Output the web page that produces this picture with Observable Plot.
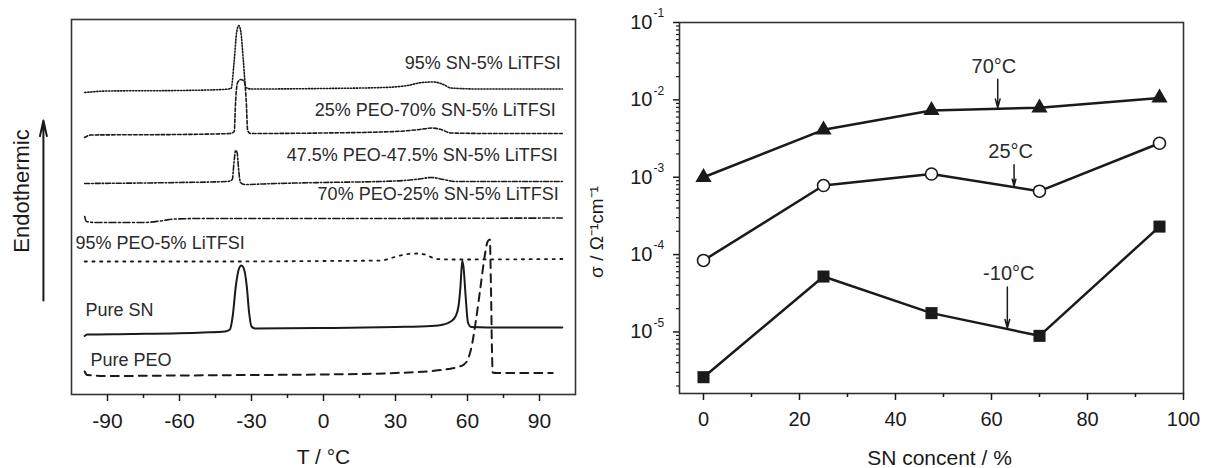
<!DOCTYPE html>
<html><head><meta charset="utf-8">
<script src="https://cdn.jsdelivr.net/npm/d3@7"></script>
<script src="https://cdn.jsdelivr.net/npm/@observablehq/plot@0.6"></script>
<style>
body{margin:0;background:#fff;}
#wrap{display:flex;width:1205px;height:468px;overflow:hidden;}
</style></head><body><div id="wrap"></div>
<script>
// ---------- Left panel: DSC curves (T in °C, heat flow in arbitrary units, offset per sample)
const dscTicks = [-90, -60, -30, 0, 30, 60, 90];
const dscMinorTicks = [-75, -45, -15, 15, 45, 75];

const curveSN95 = [[-99.5,302],[-90,303.5],[-60,304],[-42,305],[-38.5,306],[-37.2,334],[-36.2,362],[-35.3,369],[-34.4,362],[-33.4,334],[-32.4,307],[-30,305.5],[0,306],[25,307],[35,309],[41,312],[46,312.5],[50,310],[53,306.5],[65,305.5],[99.5,305.5]];
const curvePEO25SN70 = [[-99.5,257],[-97,259.5],[-60,260],[-39,261],[-37.2,263],[-36.6,294],[-35.8,312],[-34.5,315],[-33,313],[-32.2,294],[-31.6,264],[-30.5,261],[0,261.5],[30,263],[40,265],[45,266.5],[49,265],[53,261.5],[70,261],[99.5,261]];
const curvePEO475SN475 = [[-99.5,211],[-60,212],[-40,213],[-38,215],[-37.3,232],[-36.6,244],[-36,242],[-35.4,226],[-34.6,212],[-33,210],[-20,211],[0,212],[30,213.5],[40,215.5],[45,217],[50,215],[55,213],[99.5,213]];
const curvePEO70SN25 = [[-99.5,178],[-98.8,173],[-95,172],[-75,172],[-68,173.5],[-62,175.5],[-50,176],[0,176],[99.5,176.5]];
const curvePEO95 = [[-99.5,133],[-40,133],[0,133.5],[24,134],[29,137],[34,140],[39,141],[43,139.5],[47,135.5],[55,135],[99.5,135.5]];
const curvePureSN = [[-99.5,58.5],[-98.5,60],[-80,60.5],[-50,62],[-41,63],[-39,65],[-37.8,79],[-36.5,109],[-35.2,126],[-34.2,129],[-33.2,126],[-32,109],[-31,82],[-30,68],[-28.5,66],[0,66.5],[30,67.5],[45,68.5],[50,70],[53,73],[55,78],[56.3,89],[57.1,109],[57.8,134],[58.4,126],[59.2,99],[60.2,72],[61.5,67.5],[75,67],[99.5,67]];
const curvePurePEO = [[-99.5,23],[-98.5,19.5],[-90,18.5],[-60,19],[-30,19.5],[0,20],[30,21.5],[45,23.5],[52,25.5],[56,27.5],[58.5,30],[60.3,36],[61.8,49],[63.5,74],[65.5,109],[67.2,139],[68.4,153],[69.3,155],[69.8,104],[70.2,44],[70.5,22],[72,21.5],[95.5,21.5]];

const dscLabelsRight = [
  {text: "95% SN-5% LiTFSI", x: 98.9, y: 331},
  {text: "25% PEO-70% SN-5% LiTFSI", x: 96.8, y: 284},
  {text: "47.5% PEO-47.5% SN-5% LiTFSI", x: 97.6, y: 239},
  {text: "70% PEO-25% SN-5% LiTFSI", x: 98, y: 200}
];
const dscLabelsLeft = [
  {text: "95% PEO-5% LiTFSI", x: -103.3, y: 151},
  {text: "Pure SN", x: -99.2, y: 84},
  {text: "Pure PEO", x: -97.1, y: 34}
];
const endoArrow = [{x: -116.7, y1: 94, y2: 274}];

// ---------- Right panel: conductivity vs SN content
const snContent = [0, 25, 47.5, 70, 95];
const sigma70C = [1.0e-3, 4.1e-3, 7.3e-3, 7.9e-3, 1.06e-2];
const sigma25C = [8.4e-5, 7.8e-4, 1.1e-3, 6.6e-4, 2.75e-3];
const sigmaM10C = [2.6e-6, 5.2e-5, 1.75e-5, 8.9e-6, 2.3e-4];
const sigmaTicks = [1e-5, 1e-4, 1e-3, 1e-2, 1e-1];
const snTicks = [0, 20, 40, 60, 80, 100];
const snMinorTicks = [10, 30, 50, 70, 90];
const tempNotes = [
  {label: "70°C", tx: 60.5, ty: 2.7e-2, ax: 61.3, y1: 1.85e-2, y2: 7.9e-3},
  {label: "25°C", tx: 64, ty: 2.15e-3, ax: 64.7, y1: 1.45e-3, y2: 7.7e-4},
  {label: "-10°C", tx: 63.6, ty: 5.7e-5, ax: 63.3, y1: 3.8e-5, y2: 1.12e-5}
];

const sigmaMinorTicks = [];
for (let e = -6; e <= -2; e++) for (let m = 2; m <= 9; m++) {
  const v = m * Math.pow(10, e);
  if (v >= 1.6e-6 && v <= 0.1) sigmaMinorTicks.push(v);
}

const FONT = "'Liberation Sans', Arial, Helvetica, sans-serif";
const INK = "#1a1a1a";

const left = Plot.plot({
  width: 590, height: 468,
  marginLeft: 71, marginRight: 15, marginTop: 19, marginBottom: 74,
  x: {domain: [-105, 105]},
  y: {domain: [0, 375], axis: null},
  style: {fontFamily: FONT, color: INK, background: "white", overflow: "visible"},
  marks: [
    Plot.frame({stroke: "#333", strokeWidth: 1.6}),
    Plot.axisX({ticks: dscTicks, tickSize: 7, tickPadding: 12, tickFormat: d => String(d), fontSize: 21, label: null, strokeWidth: 1.5}),
    Plot.axisX({ticks: dscMinorTicks, tickSize: 4, tickFormat: () => "", label: null, strokeWidth: 1.5}),
    Plot.text(["T / °C"], {frameAnchor: "bottom", dy: 63, fontSize: 21, lineAnchor: "middle"}),
    Plot.text(["Endothermic"], {frameAnchor: "left", dx: -50, dy: -16, rotate: -90, textAnchor: "middle", lineAnchor: "middle", fontSize: 22}),
    Plot.arrow(endoArrow, {x1: "x", x2: "x", y1: "y1", y2: "y2", strokeWidth: 2, headLength: 12, headAngle: 25, stroke: INK}),
    Plot.line(curveSN95, {stroke: INK, strokeWidth: 1.6, strokeDasharray: "1.3,1.7", curve: "monotone-x"}),
    Plot.line(curvePEO25SN70, {stroke: INK, strokeWidth: 1.6, strokeDasharray: "3.5,2", curve: "monotone-x"}),
    Plot.line(curvePEO475SN475, {stroke: INK, strokeWidth: 1.6, strokeDasharray: "5,2,1.5,2", curve: "monotone-x"}),
    Plot.line(curvePEO70SN25, {stroke: INK, strokeWidth: 1.6, strokeDasharray: "7,2.5,2,2.5", curve: "monotone-x"}),
    Plot.line(curvePEO95, {stroke: INK, strokeWidth: 1.8, strokeDasharray: "2.2,5.5", curve: "monotone-x"}),
    Plot.line(curvePureSN, {stroke: INK, strokeWidth: 2, curve: "monotone-x"}),
    Plot.line(curvePurePEO, {stroke: INK, strokeWidth: 2, strokeDasharray: "8,6", curve: "monotone-x"}),
    Plot.text(dscLabelsRight, {x: "x", y: "y", text: "text", textAnchor: "end", fontSize: 18, fill: "#2a2a2a"}),
    Plot.text(dscLabelsLeft, {x: "x", y: "y", text: "text", textAnchor: "start", fontSize: 18, fill: "#2a2a2a"})
  ]
});

const rows = (vals, series) => snContent.map((x, i) => ({x, y: vals[i], series}));
const r70 = rows(sigma70C, "70°C");
const r25 = rows(sigma25C, "25°C");
const rm10 = rows(sigmaM10C, "-10°C");

const right = Plot.plot({
  width: 615, height: 468,
  marginLeft: 89, marginRight: 22, marginTop: 22, marginBottom: 75,
  x: {domain: [-5, 100]},
  y: {type: "log", domain: [1.6e-6, 0.1], axis: null},
  style: {fontFamily: FONT, color: INK, background: "white", overflow: "visible"},
  marks: [
    Plot.frame({stroke: "#333", strokeWidth: 1.6}),
    Plot.axisX({ticks: snTicks, tickSize: 7, tickPadding: 11, fontSize: 20, label: null, strokeWidth: 1.5}),
    Plot.axisX({ticks: snMinorTicks, tickSize: 4, tickFormat: () => "", label: null, strokeWidth: 1.5}),
    Plot.axisY({ticks: sigmaTicks, tickSize: 6, tickFormat: () => "", label: null, strokeWidth: 1.5}),
    Plot.axisY({ticks: sigmaMinorTicks, tickSize: 3, tickFormat: () => "", label: null, strokeWidth: 1.2}),
    Plot.text(sigmaTicks, {y: d => d, frameAnchor: "left", text: () => "10", textAnchor: "end", dx: -27, fontSize: 20}),
    Plot.text(sigmaTicks, {y: d => d, frameAnchor: "left", text: d => String(Math.round(Math.log10(d))), textAnchor: "start", dx: -26, dy: -9, fontSize: 12}),
    Plot.text(["SN concent / %"], {frameAnchor: "bottom", dy: 65, dx: 8, fontSize: 21, lineAnchor: "middle"}),
    Plot.text(["σ / Ω⁻¹cm⁻¹"], {frameAnchor: "left", dx: -83, dy: 24, rotate: -90, textAnchor: "middle", lineAnchor: "middle", fontSize: 19}),
    Plot.line(r70, {x: "x", y: "y", stroke: INK, strokeWidth: 2.5}),
    Plot.line(r25, {x: "x", y: "y", stroke: INK, strokeWidth: 2.5}),
    Plot.line(rm10, {x: "x", y: "y", stroke: INK, strokeWidth: 2.5}),
    Plot.dot(r70, {x: "x", y: "y", symbol: "triangle", r: 6, fill: INK}),
    Plot.dot(r25, {x: "x", y: "y", symbol: "circle", r: 6, fill: "white", stroke: INK, strokeWidth: 1.6}),
    Plot.dot(rm10, {x: "x", y: "y", symbol: "square", r: 6.8, fill: INK}),
    Plot.arrow(tempNotes, {x1: "ax", x2: "ax", y1: "y1", y2: "y2", strokeWidth: 1.5, headLength: 9, headAngle: 30, stroke: INK}),
    Plot.text(tempNotes, {x: "tx", y: "ty", text: "label", fontSize: 20, fill: "#2a2a2a"})
  ]
});

document.getElementById("wrap").append(left, right);
</script>
</body></html>
